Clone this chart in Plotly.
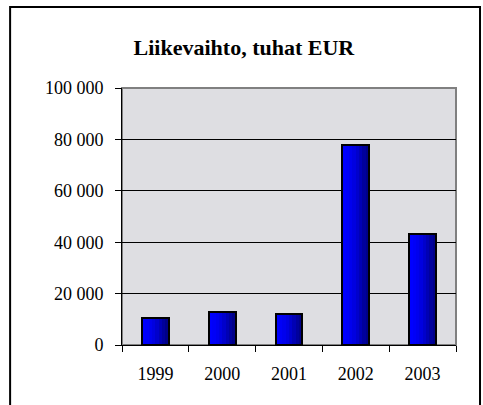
import plotly.graph_objects as go

years = ["1999", "2000", "2001", "2002", "2003"]
revenue = [10600, 13000, 12200, 78000, 43000]
y_ticks = [0, 20000, 40000, 60000, 80000, 100000]
y_tick_labels = ["0", "20 000", "40 000", "60 000", "80 000", "100 000"]
title_text = "Liikevaihto, tuhat EUR"

# horizontal gradient for bars, built from stacked narrow strips of the same bars
strip_colors = ["#0000FF", "#0000F8", "#0000EE", "#0000E0", "#0000CC", "#0000B4", "#00009C", "#000088"]
bar_w = 0.40
n = len(strip_colors)
sw = bar_w / n

fig = go.Figure()
for i, c in enumerate(strip_colors):
    fig.add_trace(go.Bar(
        x=years, y=revenue, width=sw, offset=-bar_w / 2 + i * sw,
        marker=dict(color=c, line=dict(width=0)), showlegend=False, hoverinfo="skip"))
fig.add_trace(go.Bar(
    x=years, y=revenue, width=bar_w, offset=-bar_w / 2,
    marker=dict(color="rgba(0,0,0,0)", line=dict(color="black", width=2)),
    showlegend=False))

fig.update_layout(
    width=483, height=405,
    margin=dict(l=122, r=27, t=88, b=60),
    paper_bgcolor="white",
    plot_bgcolor="#DEDEE2",
    barmode="overlay",
    bargap=0,
    font=dict(family="Liberation Serif, Times New Roman, serif", color="black", size=18),
    title=dict(text="<b>" + title_text + "</b>", x=0.505, xanchor="center",
               y=0.882, yanchor="middle",
               font=dict(family="Liberation Serif, Times New Roman, serif", size=22, color="black")),
    xaxis=dict(
        type="category", tickson="boundaries", ticks="outside", ticklen=6, tickwidth=1,
        tickcolor="black", showline=True, linecolor="black", linewidth=1,
        showgrid=False, tickfont=dict(size=18), ticklabelstandoff=12,
        range=[-0.5, 4.5],
    ),
    yaxis=dict(
        range=[0, 100000], tickvals=y_ticks, ticktext=y_tick_labels,
        ticks="outside", ticklen=6, tickwidth=1, tickcolor="black",
        showline=True, linecolor="black", linewidth=1,
        showgrid=True, gridcolor="black", gridwidth=1,
        tickfont=dict(size=18), zeroline=False, ticklabelstandoff=8,
    ),
    shapes=[
        dict(type="rect", xref="paper", yref="paper", x0=0, x1=1, y0=0, y1=1,
             line=dict(color="#808080", width=2), layer="below"),
        dict(type="rect", xref="paper", yref="paper", x0=-0.335, x1=1.0719, y0=-0.26, y1=1.315,
             line=dict(color="black", width=2), layer="above"),
    ],
)

fig.write_html("out.html", config={"displayModeBar": False},
               post_script="document.body.style.margin='0';document.body.style.overflow='hidden';")
